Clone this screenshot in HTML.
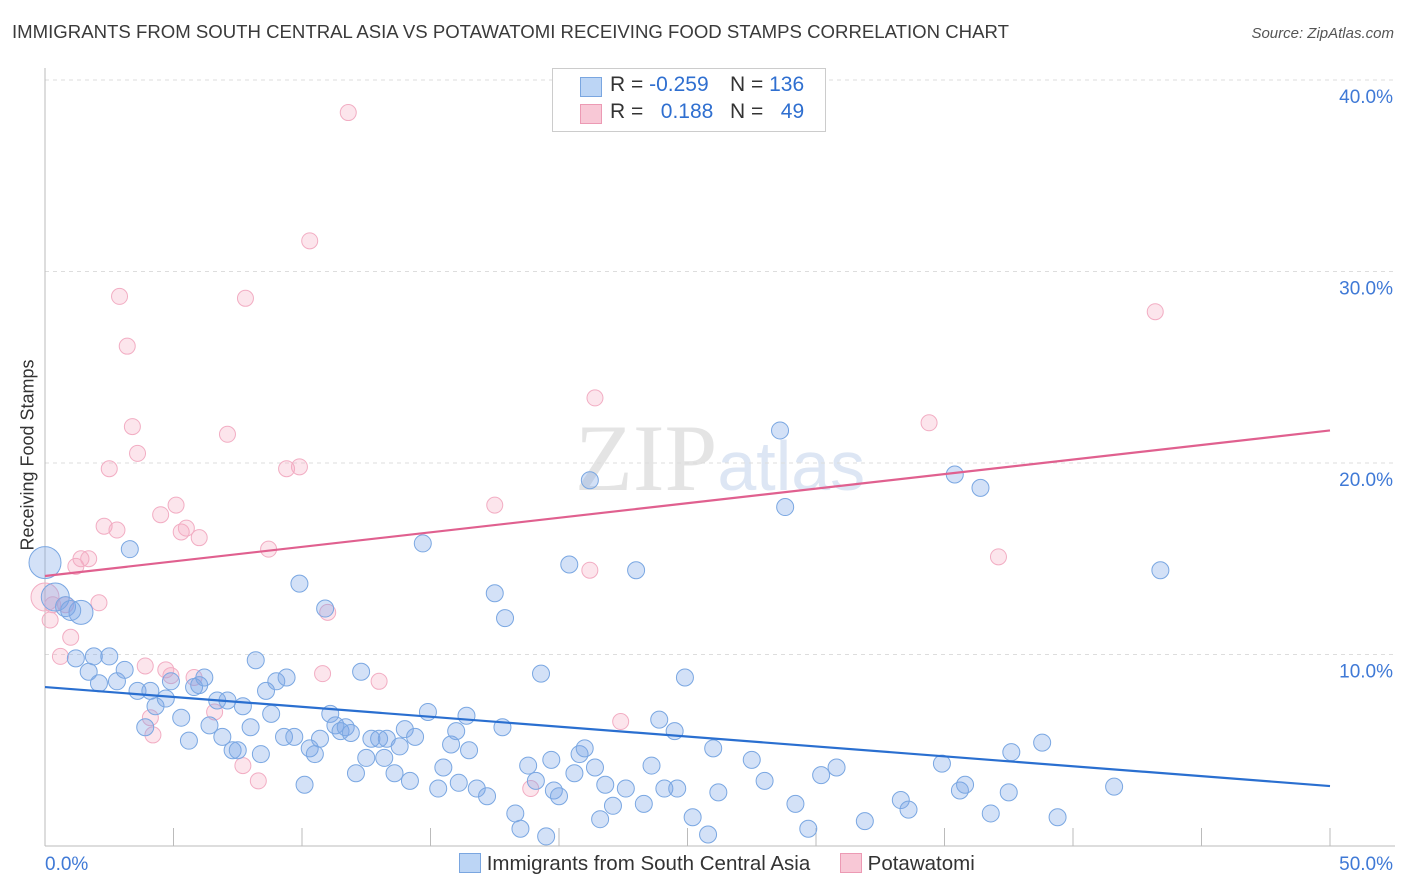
<!DOCTYPE html>
<html><head><meta charset="utf-8">
<style>
body{margin:0;background:#fff;font-family:"Liberation Sans",sans-serif;}
#wrap{position:relative;width:1406px;height:892px;overflow:hidden;}
</style></head>
<body>
<div id="wrap">
<div style="position:absolute;left:12px;top:21px;font-size:18.6px;color:#3a3a3a;">IMMIGRANTS FROM SOUTH CENTRAL ASIA VS POTAWATOMI RECEIVING FOOD STAMPS CORRELATION CHART</div>
<div style="position:absolute;right:12px;top:25px;font-size:15px;color:#555;font-style:italic;">Source: ZipAtlas.com</div>
<svg id="svg" width="1406" height="892" style="position:absolute;left:0;top:0">
<text x="720" y="490" text-anchor="middle" font-size="95" font-family="Liberation Serif" fill="#e4e4e4">ZIP<tspan fill="#dde6f4" font-family="Liberation Sans" font-size="70">atlas</tspan></text>
</svg>
<div style="position:absolute;left:552px;top:68px;width:272px;height:62px;border:1px solid #ccc;background:#fff;font-size:21px;color:#333;">
 <div style="position:absolute;left:27px;top:8px;width:20px;height:18px;background:#bcd5f5;border:1px solid #7aa6e0"></div>
 <div style="position:absolute;left:57px;top:4px;">R = <span style="color:#2f6fd0">-0.259</span></div>
 <div style="position:absolute;left:177px;top:4px;">N = <span style="color:#2f6fd0">136</span></div>
 <div style="position:absolute;left:27px;top:35px;width:20px;height:18px;background:#f8c8d6;border:1px solid #ec9ab4"></div>
 <div style="position:absolute;left:57px;top:31px;">R = &nbsp;&nbsp;<span style="color:#2f6fd0">0.188</span></div>
 <div style="position:absolute;left:177px;top:31px;">N = &nbsp;&nbsp;<span style="color:#2f6fd0">49</span></div>
</div>
<div style="position:absolute;left:28px;top:455px;transform:translate(-50%,-50%) rotate(-90deg);font-size:18px;color:#333;white-space:nowrap;">Receiving Food Stamps</div>
<div style="position:absolute;top:852px;left:459px;font-size:20.5px;color:#333;white-space:nowrap;">
 <span style="display:inline-block;width:20px;height:18px;background:#bcd5f5;border:1px solid #7aa6e0;vertical-align:-3px"></span> Immigrants from South Central Asia
 <span style="display:inline-block;width:20px;height:18px;background:#f8c8d6;border:1px solid #ec9ab4;vertical-align:-3px;margin-left:24px"></span> Potawatomi
</div>
</div>
<script>
const blueX=[0,0.4,0.8,1.4,1.0,3.3,1.9,1.2,1.7,2.5,2.1,2.8,3.1,3.6,4.1,3.9,4.3,4.7,4.9,5.3,5.6,5.8,6.0,6.2,6.4,6.7,6.9,7.1,7.3,7.5,7.7,8.0,8.2,8.4,8.6,8.8,9.0,9.3,9.4,9.7,9.9,10.1,10.3,10.5,10.7,10.9,11.1,11.3,11.5,11.7,11.9,12.1,12.3,12.5,12.7,13.0,13.2,13.3,13.6,13.8,14.0,14.2,14.4,14.7,14.9,15.3,15.5,15.8,16.0,16.1,16.4,16.5,16.8,17.2,17.5,17.8,17.9,18.3,18.5,18.8,19.1,19.3,19.5,19.7,19.8,20.0,20.4,20.6,20.8,21.0,21.2,21.4,21.6,21.8,22.1,22.6,23.0,23.3,23.6,23.9,24.1,24.5,24.6,24.9,25.2,25.8,26.0,26.2,27.5,28.0,28.6,28.8,29.2,29.7,30.2,30.8,31.9,33.3,33.6,34.9,35.4,35.6,35.8,36.4,36.8,37.5,37.6,38.8,39.4,41.6,43.4];
const blueY=[14.8,13.0,12.5,12.2,12.3,15.5,9.9,9.8,9.1,9.9,8.5,8.6,9.2,8.1,8.1,6.2,7.3,7.7,8.6,6.7,5.5,8.3,8.4,8.8,6.3,7.6,5.7,7.6,5.0,5.0,7.3,6.2,9.7,4.8,8.1,6.9,8.6,5.7,8.8,5.7,13.7,3.2,5.1,4.8,5.6,12.4,6.9,6.3,6.0,6.2,5.9,3.8,9.1,4.6,5.6,5.6,4.6,5.6,3.8,5.2,6.1,3.4,5.7,15.8,7.0,3.0,4.1,5.3,6.0,3.3,6.8,5.0,3.0,2.6,13.2,6.2,11.9,1.7,0.9,4.2,3.4,9.0,0.5,4.5,2.9,2.6,14.7,3.8,4.8,5.1,19.1,4.1,1.4,3.2,2.1,3.0,14.4,2.2,4.2,6.6,3.0,6.0,3.0,8.8,1.5,0.6,5.1,2.8,4.5,3.4,21.7,17.7,2.2,0.9,3.7,4.1,1.3,2.4,1.9,4.3,19.4,2.9,3.2,18.7,1.7,2.8,4.9,5.4,1.5,3.1,14.4];
const blueSize=[16,14,10,12,10];
const pinkX=[0,0.2,0.6,1.0,1.2,1.4,1.7,2.1,2.3,2.5,2.8,2.9,3.2,3.4,3.6,4.1,4.2,4.5,4.7,4.9,5.1,5.3,5.5,6.0,5.8,6.6,7.1,7.7,7.8,8.3,8.7,9.4,9.9,10.3,10.8,11.0,11.8,13.0,17.5,18.9,21.2,21.4,22.4,34.4,37.1,43.2,3.9,0.8,0.3];
const pinkY=[13.0,11.8,9.9,10.9,14.6,15.0,15.0,12.7,16.7,19.7,16.5,28.7,26.1,21.9,20.5,6.7,5.8,17.3,9.2,8.9,17.8,16.4,16.6,16.1,8.8,7.0,21.5,4.2,28.6,3.4,15.5,19.7,19.8,31.6,9.0,12.2,38.3,8.6,17.8,3.0,14.4,23.4,6.5,22.1,15.1,27.9,9.4,12.6,12.6];
const pinkSize=[14];
const blueTrend=[8.3,3.13];
const pinkTrend=[14.1,21.7];
const yTicks=[10,20,30,40];
const yTickLabels=["10.0%","20.0%","30.0%","40.0%"];
const xTicks=[0,5,10,15,20,25,30,35,40,45,50];

const X0=45,X1=1330,Y0=846,YT=80;
const sx=v=>X0+(X1-X0)*v/50;
const sy=v=>Y0-(Y0-YT)*v/40;
const svg=document.getElementById('svg');
const NS='http://www.w3.org/2000/svg';
function mk(t,a){const e=document.createElementNS(NS,t);for(const k in a)e.setAttribute(k,a[k]);svg.appendChild(e);return e;}
yTicks.forEach((v,i)=>{
 const g=mk('line',{x1:X0,x2:1395,y1:sy(v),y2:sy(v),stroke:'#ddd','stroke-dasharray':'4,4'});
 
 
 const t=mk('text',{x:1393,y:sy(v)+23,'text-anchor':'end','font-size':19,fill:'#3f79d6','font-family':'Liberation Sans'});
 t.textContent=yTickLabels[i];
 
 
});
const ax=mk('line',{x1:X0,x2:X0,y1:68,y2:Y0,stroke:'#bbb'});


const bx=mk('line',{x1:X0,x2:1395,y1:Y0,y2:Y0,stroke:'#bbb'});


xTicks.forEach(v=>{
 const t=mk('line',{x1:sx(v),x2:sx(v),y1:828,y2:Y0,stroke:'#bbb'});
 
 
});
[[0,'0.0%','start',45],[50,'50.0%','end',1393]].forEach(d=>{
 const t=mk('text',{x:d[3],y:870,'text-anchor':d[2],'font-size':19,fill:'#3f79d6','font-family':'Liberation Sans'});
 t.textContent=d[1];
 
 
});
pinkX.forEach((x,i)=>{
 const c=mk('circle',{cx:sx(x),cy:sy(pinkY[i]),r:pinkSize[i]||8,fill:'rgba(244,168,192,0.3)',stroke:'#f2adc3','stroke-width':1});
 
 
});
blueX.forEach((x,i)=>{
 const c=mk('circle',{cx:sx(x),cy:sy(blueY[i]),r:blueSize[i]||8.5,fill:'rgba(120,165,230,0.33)',stroke:'#7aa7e2','stroke-width':1});
 
 
});
const bl=mk('line',{x1:sx(0),y1:sy(blueTrend[0]),x2:sx(50),y2:sy(blueTrend[1]),stroke:'#2a6fd0','stroke-width':2.2});


const pl=mk('line',{x1:sx(0),y1:sy(pinkTrend[0]),x2:sx(50),y2:sy(pinkTrend[1]),stroke:'#e0608f','stroke-width':2.2});


</script>
</body></html>
